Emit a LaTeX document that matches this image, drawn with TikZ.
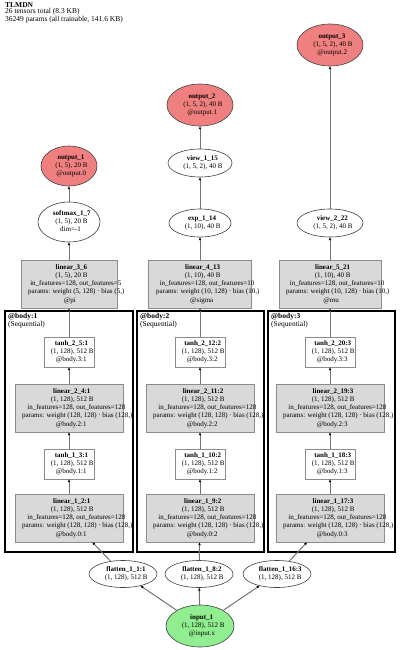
\documentclass[tikz,border=0pt]{standalone}
\usepackage{fontspec}
\setmainfont{Liberation Serif}
\usetikzlibrary{shapes.geometric,arrows.meta}
\definecolor{outred}{HTML}{F08080}
\definecolor{ingreen}{HTML}{90EE90}
\definecolor{lingray}{HTML}{D9D9D9}
\newcommand\nodetxt[1]{\vbox to 0pt{\vss\hbox to 0pt{\hss\begin{tabular}{@{}c@{}}#1\end{tabular}\hss}\vss}}
\newcommand\gl[1]{\makebox[0.85\width][l]{#1}}
\newcommand\gvtwo[2]{\nodetxt{\gl{\textbf{#1}}\\\gl{#2}}}
\newcommand\gvthree[3]{\nodetxt{\gl{\textbf{#1}}\\\gl{#2}\\\gl{#3}}}
\newcommand\gvfive[5]{\nodetxt{\gl{\textbf{#1}}\\\gl{#2}\\\gl{#3}\\\gl{#4}\\\gl{#5}}}
\tikzset{
  basenode/.style={inner sep=0pt, outer sep=0pt, font=\fontsize{7}{8.3}\selectfont},
  ell/.style={basenode, ellipse, draw=black!75, line width=0.6pt, fill=white},
  outn/.style={ell, fill=outred},
  inn/.style={ell, fill=ingreen},
  rbox/.style={basenode, rectangle, draw=black!45, line width=0.8pt, fill=white},
  linbox/.style={rbox, fill=lingray},
  edge/.style={draw=black!55, line width=1pt, -{Latex[length=3.2pt,width=2.6pt,color=black]}},
  cluster/.style={draw=black, line width=2.4pt},
  clabel/.style={anchor=north west, align=left, inner sep=0pt, font=\fontsize{7.5}{6.7}\selectfont},
}
\begin{document}
\begin{tikzpicture}[x=1pt,y=-1pt]
\useasboundingbox (0,0) rectangle (400,650);
% header
\node[clabel] (hdr) at (5,2) {\textbf{TLMDN}\\26 tensors total (8.3 KB)\\36249 params (all trainable, 141.6 KB)};
% clusters
\draw[cluster] (5,311) rectangle (133,552);
\draw[cluster] (137,311) rectangle (264,552);
\draw[cluster] (268,311) rectangle (395,552);
\node[clabel] (c1lab) at (8,313) {\textbf{@body:1}\\(Sequential)};
\node[clabel] (c2lab) at (140,313) {\textbf{@body:2}\\(Sequential)};
\node[clabel] (c3lab) at (271,313) {\textbf{@body:3}\\(Sequential)};
% outputs
\node[outn, minimum width=66pt, minimum height=42pt] (out3) at (330,45) {\gvthree{output\_3}{(1, 5, 2), 40 B}{@output.2}};
\node[outn, minimum width=66pt, minimum height=42pt] (out2) at (200,105) {\gvthree{output\_2}{(1, 5, 2), 40 B}{@output.1}};
\node[outn, minimum width=56pt, minimum height=40pt] (out1) at (69,166) {\gvthree{output\_1}{(1, 5), 20 B}{@output.0}};
\node[ell, minimum width=64pt, minimum height=28pt] (view115) at (200,163) {\gvtwo{view\_1\_15}{(1, 5, 2), 40 B}};
\node[ell, minimum width=62pt, minimum height=40pt] (softmax) at (69,222) {\gvthree{softmax\_1\_7}{(1, 5), 20 B}{dim=-1}};
\node[ell, minimum width=62pt, minimum height=28pt] (exp) at (200,223) {\gvtwo{exp\_1\_14}{(1, 10), 40 B}};
\node[ell, minimum width=66pt, minimum height=28pt] (view222) at (330,223) {\gvtwo{view\_2\_22}{(1, 5, 2), 40 B}};
% heads
\node[linbox, minimum width=96pt, minimum height=48pt] (lin36) at (69,284) {\gvfive{linear\_3\_6}{(1, 5), 20 B}{in\_features=128, out\_features=5}{params: weight (5, 128) · bias (5,)}{@pi}};
\node[linbox, minimum width=103pt, minimum height=48pt] (lin413) at (200,284) {\gvfive{linear\_4\_13}{(1, 10), 40 B}{in\_features=128, out\_features=10}{params: weight (10, 128) · bias (10,)}{@sigma}};
\node[linbox, minimum width=102pt, minimum height=48pt] (lin521) at (330,284) {\gvfive{linear\_5\_21}{(1, 10), 40 B}{in\_features=128, out\_features=10}{params: weight (10, 128) · bias (10,)}{@mu}};
% body 1
\node[rbox, minimum width=50pt, minimum height=30pt] (t2a) at (69,352) {\gvthree{tanh\_2\_5:1}{(1, 128), 512 B}{@body.3:1}};
\node[linbox, minimum width=108pt, minimum height=48pt] (l2a) at (69,408) {\gvfive{linear\_2\_4:1}{(1, 128), 512 B}{in\_features=128, out\_features=128}{params: weight (128, 128) · bias (128,)}{@body.2:1}};
\node[rbox, minimum width=50pt, minimum height=30pt] (t1a) at (69,464) {\gvthree{tanh\_1\_3:1}{(1, 128), 512 B}{@body.1:1}};
\node[linbox, minimum width=108pt, minimum height=48pt] (l1a) at (69,518) {\gvfive{linear\_1\_2:1}{(1, 128), 512 B}{in\_features=128, out\_features=128}{params: weight (128, 128) · bias (128,)}{@body.0:1}};
% body 2
\node[rbox, minimum width=50pt, minimum height=30pt] (t2b) at (200,352) {\gvthree{tanh\_2\_12:2}{(1, 128), 512 B}{@body.3:2}};
\node[linbox, minimum width=108pt, minimum height=48pt] (l2b) at (200,408) {\gvfive{linear\_2\_11:2}{(1, 128), 512 B}{in\_features=128, out\_features=128}{params: weight (128, 128) · bias (128,)}{@body.2:2}};
\node[rbox, minimum width=50pt, minimum height=30pt] (t1b) at (200,464) {\gvthree{tanh\_1\_10:2}{(1, 128), 512 B}{@body.1:2}};
\node[linbox, minimum width=108pt, minimum height=48pt] (l1b) at (200,518) {\gvfive{linear\_1\_9:2}{(1, 128), 512 B}{in\_features=128, out\_features=128}{params: weight (128, 128) · bias (128,)}{@body.0:2}};
% body 3
\node[rbox, minimum width=50pt, minimum height=30pt] (t2c) at (330,352) {\gvthree{tanh\_2\_20:3}{(1, 128), 512 B}{@body.3:3}};
\node[linbox, minimum width=108pt, minimum height=48pt] (l2c) at (330,408) {\gvfive{linear\_2\_19:3}{(1, 128), 512 B}{in\_features=128, out\_features=128}{params: weight (128, 128) · bias (128,)}{@body.2:3}};
\node[rbox, minimum width=50pt, minimum height=30pt] (t1c) at (330,464) {\gvthree{tanh\_1\_18:3}{(1, 128), 512 B}{@body.1:3}};
\node[linbox, minimum width=108pt, minimum height=48pt] (l1c) at (330,518) {\gvfive{linear\_1\_17:3}{(1, 128), 512 B}{in\_features=128, out\_features=128}{params: weight (128, 128) · bias (128,)}{@body.0:3}};
% flatten + input
\node[ell, minimum width=68pt, minimum height=27pt] (fa) at (123,574) {\gvtwo{flatten\_1\_1:1}{(1, 128), 512 B}};
\node[ell, minimum width=68pt, minimum height=27pt] (fb) at (199,574) {\gvtwo{flatten\_1\_8:2}{(1, 128), 512 B}};
\node[ell, minimum width=68pt, minimum height=27pt] (fc) at (277,574) {\gvtwo{flatten\_1\_16:3}{(1, 128), 512 B}};
\node[inn, minimum width=68pt, minimum height=42pt] (inp) at (200,626) {\gvthree{input\_1}{(1, 128), 512 B}{@input.x}};
% edges
\draw[edge] (inp) -- (fa);
\draw[edge] (inp) -- (fb);
\draw[edge] (inp) -- (fc);
\draw[edge] (fa) -- (l1a);
\draw[edge] (fb) -- (l1b);
\draw[edge] (fc) -- (l1c);
\draw[edge] (l1a) -- (t1a);
\draw[edge] (t1a) -- (l2a);
\draw[edge] (l2a) -- (t2a);
\draw[edge] (t2a) -- (lin36);
\draw[edge] (l1b) -- (t1b);
\draw[edge] (t1b) -- (l2b);
\draw[edge] (l2b) -- (t2b);
\draw[edge] (t2b) -- (lin413);
\draw[edge] (l1c) -- (t1c);
\draw[edge] (t1c) -- (l2c);
\draw[edge] (l2c) -- (t2c);
\draw[edge] (t2c) -- (lin521);
\draw[edge] (lin36) -- (softmax);
\draw[edge] (softmax) -- (out1);
\draw[edge] (lin413) -- (exp);
\draw[edge] (exp) -- (view115);
\draw[edge] (view115) -- (out2);
\draw[edge] (lin521) -- (view222);
\draw[edge] (view222) -- (out3);
\end{tikzpicture}
\end{document}
